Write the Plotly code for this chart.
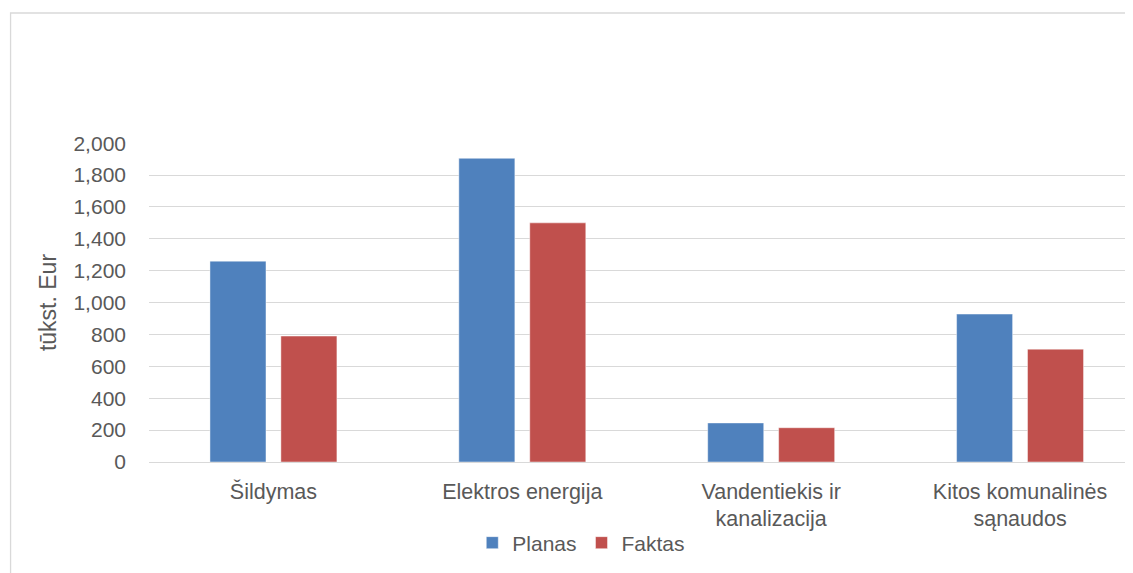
import plotly.graph_objects as go

categories = ["Šildymas", "Elektros energija", "Vandentiekis ir<br>kanalizacija", "Kitos komunalinės<br>sąnaudos"]
planas = [1260, 1905, 245, 928]
faktas = [790, 1500, 215, 708]
y_ticks = [0, 200, 400, 600, 800, 1000, 1200, 1400, 1600, 1800, 2000]

OFF = 8  # browser body margin
W, H = 1133 - OFF, 573 - OFF
L = 148.5 - OFF
T = 143 - OFF
B = 573 - 462
plot_w = W - L
plot_h = H - T - B
cat_px = 249.0

FONT = "Liberation Sans"
GREY = "#595959"

fig = go.Figure()
fig.add_trace(go.Bar(name="Planas", x=list(range(4)), y=planas,
                     marker=dict(color="#4F81BD", line=dict(color="rgba(255,255,255,0.45)", width=1))))
fig.add_trace(go.Bar(name="Faktas", x=list(range(4)), y=faktas,
                     marker=dict(color="#C0504D", line=dict(color="rgba(255,255,255,0.45)", width=1))))

def px_x(p):  # p in reference page pixels
    return (p - OFF - L) / plot_w

def px_y(p):
    return (H - B - (p - OFF)) / plot_h

fig.add_shape(type="rect", xref="paper", yref="paper",
              x0=px_x(10), x1=px_x(1250), y0=px_y(700), y1=px_y(13),
              line=dict(color="#D9D9D9", width=1.3), fillcolor="rgba(0,0,0,0)", layer="below")

fig.update_layout(
    width=W, height=H,
    margin=dict(l=L, r=0, t=T, b=B, pad=0),
    paper_bgcolor="white", plot_bgcolor="white",
    barmode="group", bargap=0.43, bargroupgap=0.21,
    font=dict(family=FONT, size=21, color=GREY),
    showlegend=True,
    legend=dict(orientation="h", x=px_x(581), xanchor="center", y=px_y(543), yanchor="middle",
                font=dict(family=FONT, size=21, color=GREY), itemwidth=30, tracegroupgap=0),
    xaxis=dict(range=[-0.5, -0.5 + plot_w / cat_px], tickmode="array", tickvals=list(range(4)),
               ticktext=categories, showgrid=False, zeroline=False, showline=False,
               ticks="", ticklabelstandoff=14,
               tickfont=dict(family=FONT, size=21.5, color=GREY), fixedrange=True),
    yaxis=dict(range=[0, 2001], tickmode="array", tickvals=y_ticks,
               ticktext=[f"{v:,}" for v in y_ticks], showgrid=True, gridcolor="#D9D9D9", gridwidth=1.3,
               zeroline=True, zerolinecolor="#D9D9D9", zerolinewidth=1.3, showline=False,
               ticks="", ticklabelstandoff=22,
               tickfont=dict(family=FONT, size=21, color=GREY),
               title=dict(text="tūkst. Eur", font=dict(family=FONT, size=23, color=GREY), standoff=10)),
)

fig.write_html("out.html")
